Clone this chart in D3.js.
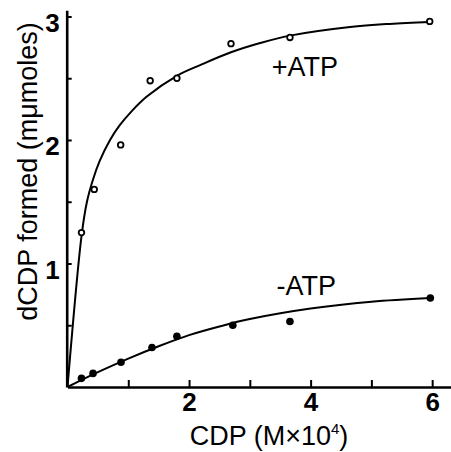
<!DOCTYPE html>
<html lang="en">
<head>
<meta charset="utf-8">
<title>dCDP formed vs CDP</title>
<script src="https://d3js.org/d3.v7.min.js"></script>
<style>
    body { margin: 0; background: #fff; }
    svg { display: block; font-family: "Liberation Sans", Arial, sans-serif; }
    .axis path, .axis line { stroke: #000; }
    .axis text { font-weight: bold; font-size: 26px; fill: #000; }
</style>
</head>
<body>
<div id="chart"></div>
<script>
    // measured points (CDP in M x 10^4, dCDP in mumoles)
    const cdpPlus = [0.23, 0.44, 0.875, 1.36, 1.80, 2.69, 3.66, 5.96];
    const dcdpPlus = [1.25, 1.60, 1.96, 2.48, 2.50, 2.78, 2.83, 2.96];
    const cdpMinus = [0.23, 0.42, 0.88, 1.39, 1.80, 2.72, 3.66, 5.97];
    const dcdpMinus = [0.07, 0.11, 0.20, 0.32, 0.41, 0.50, 0.53, 0.72];

    // hand drawn curves
    const curvePlusX = [0, 0.23, 0.32, 0.42, 0.53, 0.7, 0.86, 1.05, 1.3, 1.8, 2.2, 2.69, 3.17, 3.66, 4.65, 5.3, 5.96];
    const curvePlusY = [0, 1.22, 1.50, 1.68, 1.83, 2.0, 2.12, 2.23, 2.35, 2.52, 2.61, 2.71, 2.785, 2.845, 2.915, 2.94, 2.955];
    const curveMinusX = [0, 0.5, 1.0, 1.5, 2.0, 2.5, 3.0, 4.0, 5.0, 5.97];
    const curveMinusY = [0, 0.12, 0.23, 0.33, 0.42, 0.49, 0.55, 0.635, 0.69, 0.72];

    const xTicks = [1, 2, 3, 4, 5, 6];
    const xTickLabels = [2, 4, 6];
    const yTicks = [0.5, 1, 1.5, 2, 2.5, 3];
    const yTickLabels = [1, 2, 3];

    const width = 451, height = 452;
    const svg = d3.select("#chart").append("svg")
        .attr("width", width)
        .attr("height", height);

    const x = d3.scaleLinear().domain([0, 6.31]).range([67.5, 451]);
    const y = d3.scaleLinear().domain([0, 3.05]).range([387, 10.3]);

    // x axis, ticks pointing up
    const xAxis = svg.append("g")
        .attr("class", "axis")
        .attr("transform", `translate(0,${y(0)})`)
        .call(d3.axisBottom(x)
            .tickValues(xTicks)
            .tickSizeInner(-7)
            .tickSizeOuter(0)
            .tickPadding(6)
            .tickFormat(d => xTickLabels.includes(d) ? d : ""));
    xAxis.select(".domain").attr("stroke-width", 2.6);
    xAxis.selectAll(".tick line").attr("stroke-width", 2);

    // y axis, ticks pointing right
    const yAxis = svg.append("g")
        .attr("class", "axis")
        .attr("transform", `translate(${x(0) - 0.8},0)`)
        .call(d3.axisLeft(y)
            .tickValues(yTicks)
            .tickSizeInner(-5)
            .tickSizeOuter(0)
            .tickPadding(7)
            .tickFormat(d => yTickLabels.includes(d) ? d : ""));
    yAxis.select(".domain").attr("stroke-width", 2.6);
    yAxis.selectAll(".tick line").attr("stroke-width", 2);
    yAxis.selectAll(".tick text").attr("dy", 15);

    const line = d3.line()
        .x(d => x(d[0]))
        .y(d => y(d[1]))
        .curve(d3.curveCatmullRom.alpha(0.5));

    svg.append("path")
        .datum(curvePlusX.map((v, i) => [v, curvePlusY[i]]))
        .attr("d", line)
        .attr("fill", "none")
        .attr("stroke", "#000")
        .attr("stroke-width", 2);

    svg.append("path")
        .datum(curveMinusX.map((v, i) => [v, curveMinusY[i]]))
        .attr("d", line)
        .attr("fill", "none")
        .attr("stroke", "#000")
        .attr("stroke-width", 2);

    svg.selectAll("circle.open")
        .data(cdpPlus.map((v, i) => [v, dcdpPlus[i]]))
        .enter().append("circle")
        .attr("class", "open")
        .attr("cx", d => x(d[0]))
        .attr("cy", d => y(d[1]))
        .attr("r", 2.8)
        .attr("fill", "#fff")
        .attr("stroke", "#000")
        .attr("stroke-width", 1.8);

    svg.selectAll("circle.filled")
        .data(cdpMinus.map((v, i) => [v, dcdpMinus[i]]))
        .enter().append("circle")
        .attr("class", "filled")
        .attr("cx", d => x(d[0]))
        .attr("cy", d => y(d[1]))
        .attr("r", 3.8)
        .attr("fill", "#000");

    // series labels
    svg.append("text")
        .attr("x", x(3.36))
        .attr("y", y(2.52))
        .attr("font-size", 27)
        .text("+ATP");
    svg.append("text")
        .attr("x", x(3.44))
        .attr("y", y(0.745))
        .attr("font-size", 27)
        .text("-ATP");

    // axis titles
    const xTitle = svg.append("text")
        .attr("x", 269)
        .attr("y", 445)
        .attr("text-anchor", "middle")
        .attr("font-size", 27)
        .text("CDP (M×10");
    xTitle.append("tspan")
        .attr("font-size", 15)
        .attr("dy", -11)
        .text("4");
    xTitle.append("tspan")
        .attr("dy", 11)
        .text(")");

    svg.append("text")
        .attr("transform", "translate(37,171.5) rotate(-90)")
        .attr("text-anchor", "middle")
        .attr("font-size", 27)
        .text("dCDP formed (mμmoles)");
</script>
</body>
</html>
